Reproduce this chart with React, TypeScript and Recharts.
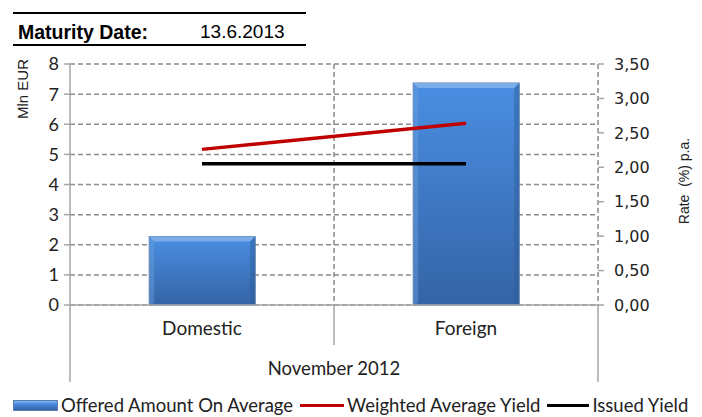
import React from 'react';
import {
	ComposedChart,
	Bar,
	Line,
	XAxis,
	YAxis,
	CartesianGrid,
} from 'recharts';

const categories = ['Domestic', 'Foreign'];
const offeredAmount = [2.27, 7.37];
const weightedYield = [2.26, 2.64];
const issuedYield = [2.05, 2.05];
const groupLabel = 'November 2012';
const leftTicks = [0, 1, 2, 3, 4, 5, 6, 7, 8];
const rightTicks = [0, 0.5, 1, 1.5, 2, 2.5, 3, 3.5];

const data = categories.map((c, i) => ({
	cat: c,
	offered: offeredAmount[i],
	weighted: weightedYield[i],
	issued: issuedYield[i],
}));

const LABEL_FONT = 'Lato, "Open Sans", sans-serif';
const ARIAL = '"Liberation Sans", Arial, sans-serif';

const BevelBar = (props: any) => {
	const { x, y, width, height } = props;
	if (!height || height <= 0) return null;
	const b = 5;
	return (
		<g>
			<rect x={x} y={y} width={width} height={height} fill="url(#barFill)" stroke="#5b7fae" strokeWidth={1} />
			<polygon
				points={`${x},${y} ${x + width},${y} ${x + width - b},${y + b} ${x + b},${y + b}`}
				fill="#8ab8ee"
				opacity={0.75}
			/>
			<polygon
				points={`${x},${y} ${x + b},${y + b} ${x + b},${y + height - 2} ${x},${y + height}`}
				fill="#6d9fdc"
				opacity={0.45}
			/>
			<polygon
				points={`${x + width},${y} ${x + width - b},${y + b} ${x + width - b},${y + height - 2} ${x + width},${y + height}`}
				fill="#2c5a94"
				opacity={0.45}
			/>
		</g>
	);
};

const CategoryTick = (props: any) => {
	const { x, y, payload, index, visibleTicksCount } = props;
	const half = payload && payload.offset ? payload.offset : 132;
	const base = y - 8;
	const last = index === visibleTicksCount - 1;
	return (
		<g>
			<text x={x} y={base + 30} textAnchor="middle" fontFamily={LABEL_FONT} fontSize={19} fill="#222">
				{payload.value}
			</text>
			{index === 0 && (
				<>
					<line x1={x - half} y1={base} x2={x - half} y2={base + 77} stroke="#a6a6a6" strokeWidth={1.5} />
					<line x1={x + half} y1={base} x2={x + half} y2={base + 40} stroke="#a6a6a6" strokeWidth={1.5} />
					<text x={x + half} y={base + 70} textAnchor="middle" fontFamily={LABEL_FONT} fontSize={18.5} fill="#222">
						{groupLabel}
					</text>
				</>
			)}
			{last && (
				<line x1={x + half} y1={base} x2={x + half} y2={base + 77} stroke="#a6a6a6" strokeWidth={1.5} />
			)}
		</g>
	);
};

const fmtRate = (v: number) => v.toFixed(2).replace('.', ',');

export default function App() {
	return (
		<div
			style={{
				position: 'absolute',
				left: 0,
				top: 0,
				width: 702,
				height: 417,
				background: '#fff',
				overflow: 'hidden',
			}}
		>
			<ComposedChart
				width={702}
				height={417}
				data={data}
				margin={{ top: 64, right: 24, left: 20, bottom: 0 }}
				barCategoryGap="30%"
			>
				<defs>
					<linearGradient id="barFill" x1="0" y1="0" x2="0" y2="1">
						<stop offset="0%" stopColor="#4a8ee2" />
						<stop offset="100%" stopColor="#3464a6" />
					</linearGradient>
				</defs>
				<CartesianGrid
					yAxisId="left"
					stroke="#8c8c8c"
					strokeWidth={1.5}
					strokeDasharray="5 3"
					verticalCoordinatesGenerator={({ offset }: any) => [
						offset.left + offset.width / 2,
						offset.left + offset.width,
					]}
				/>
				<XAxis
					dataKey="cat"
					height={112}
					tickLine={false}
					axisLine={{ stroke: '#a6a6a6', strokeWidth: 1.5 }}
					tick={<CategoryTick />}
					interval={0}
				/>
				<YAxis
					yAxisId="left"
					width={50}
					domain={[0, 8]}
					ticks={leftTicks}
					interval={0}
					tickSize={6}
					tickMargin={5}
					axisLine={{ stroke: '#a6a6a6', strokeWidth: 1.5 }}
					tickLine={{ stroke: '#a6a6a6', strokeWidth: 1.5 }}
					tick={{ fontFamily: LABEL_FONT, fontSize: 18, fill: '#222' }}
				/>
				<YAxis
					yAxisId="right"
					orientation="right"
					width={80}
					domain={[0, 3.5]}
					ticks={rightTicks}
					interval={0}
					tickSize={6}
					tickMargin={10}
					tickFormatter={fmtRate}
					axisLine={{ stroke: '#a6a6a6', strokeWidth: 1.5, strokeDasharray: '5 3' }}
					tickLine={{ stroke: '#a6a6a6', strokeWidth: 1.5 }}
					tick={{ fontFamily: '"DejaVu Sans", Verdana, sans-serif', fontSize: 16, fill: '#222' }}
				/>
				<Bar
					yAxisId="left"
					dataKey="offered"
					name="Offered Amount On Average"
					shape={<BevelBar />}
					isAnimationActive={false}
				/>
				<Line
					yAxisId="right"
					dataKey="weighted"
					name="Weighted Average Yield"
					type="linear"
					stroke="#c00000"
					strokeWidth={3.5}
					dot={false}
					activeDot={false}
					isAnimationActive={false}
				/>
				<Line
					yAxisId="right"
					dataKey="issued"
					name="Issued Yield"
					type="linear"
					stroke="#000"
					strokeWidth={3.5}
					dot={false}
					activeDot={false}
					isAnimationActive={false}
				/>
			</ComposedChart>

			{/* header block */}
			<div style={{ position: 'absolute', left: 13, top: 12, width: 293, height: 2, background: '#000' }} />
			<div style={{ position: 'absolute', left: 13, top: 44, width: 293, height: 2, background: '#000' }} />
			<div
				style={{
					position: 'absolute',
					left: 18,
					top: 21,
					fontFamily: ARIAL,
					fontWeight: 'bold',
					fontSize: 19.5,
					lineHeight: '22px',
				}}
			>
				Maturity Date:
			</div>
			<div style={{ position: 'absolute', left: 200, top: 21, fontFamily: ARIAL, fontSize: 19, lineHeight: '22px' }}>
				13.6.2013
			</div>

			{/* axis titles */}
			<div
				style={{
					position: 'absolute',
					left: 22,
					top: 89,
					transform: 'translate(-50%, -50%) rotate(-90deg)',
					fontFamily: ARIAL,
					fontSize: 15,
					whiteSpace: 'nowrap',
					color: '#222',
				}}
			>
				Mln EUR
			</div>
			<div
				style={{
					position: 'absolute',
					left: 684,
					top: 181,
					transform: 'translate(-50%, -50%) rotate(-90deg)',
					fontFamily: ARIAL,
					fontSize: 14,
					whiteSpace: 'pre',
					color: '#222',
				}}
			>
				{'Rate  (%) p.a.'}
			</div>

			{/* legend */}
			<div
				style={{
					position: 'absolute',
					left: 13,
					top: 394,
					display: 'flex',
					alignItems: 'center',
					fontFamily: LABEL_FONT,
					fontSize: 18.5,
					color: '#222',
					whiteSpace: 'nowrap',
				}}
			>
				<span
					style={{
						display: 'inline-block',
						width: 45,
						height: 11,
						background: 'linear-gradient(#8ab8ee, #4a8ee2 30%, #3464a6)',
						border: '1px solid #5b7fae',
						boxSizing: 'border-box',
						marginRight: 3,
					}}
				/>
				<span>Offered Amount On Average</span>
				<span style={{ display: 'inline-block', width: 44, height: 3, background: '#c00000', margin: '0 3px 0 7px' }} />
				<span>Weighted Average Yield</span>
				<span style={{ display: 'inline-block', width: 42, height: 3, background: '#000', margin: '0 3px 0 7px' }} />
				<span>Issued Yield</span>
			</div>
		</div>
	);
}
